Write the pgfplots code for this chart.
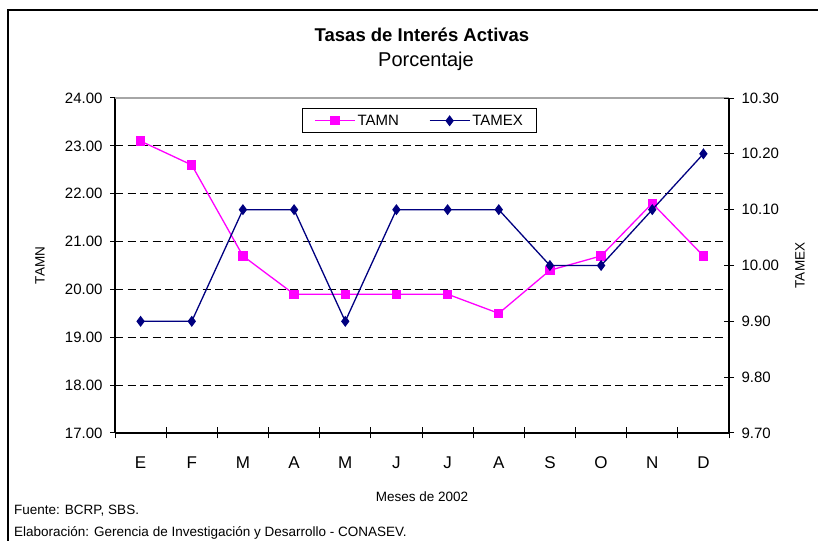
\documentclass[border=0pt]{standalone}
\usepackage{fontspec}
\setmainfont{Liberation Sans}
\usepackage{pgfplots}
\pgfplotsset{compat=1.18}
\definecolor{tamn}{RGB}{255,0,255}
\definecolor{tamex}{RGB}{0,0,128}

\pgfplotstableread{
x tamn tamex
0 23.1 9.9
1 22.6 9.9
2 20.7 10.1
3 19.9 10.1
4 19.9 9.9
5 19.9 10.1
6 19.9 10.1
7 19.5 10.1
8 20.4 10.0
9 20.7 10.0
10 21.8 10.1
11 20.7 10.2
}\datatable

\pgfplotsset{
  common/.style={
    at={(115pt,107pt)}, anchor=south west,
    scale only axis, width=614pt, height=335pt,
    xmin=-0.5, xmax=11.5,
    tick align=center,
    major tick length=10pt, minor tick length=11pt,
    every tick/.style={black, line width=1pt},
    axis line style={-, black, line width=1.3pt},
    every outer x axis line/.append style={-},
    every outer y axis line/.append style={-},
    /pgf/number format/.cd, fixed, fixed zerofill, precision=2, assume math mode=true,
  },
}

\begin{document}
\begin{tikzpicture}[x=1pt,y=1pt]
\useasboundingbox (0,0) rectangle (818,540);
\draw[line width=1.8pt] (8,-30) -- (8,530) -- (860,530);
\node[font=\fontsize{18.5}{20}\selectfont\bfseries, anchor=base, inner sep=0] at (422,498.3) {Tasas de Interés Activas};
\node[font=\fontsize{20}{22}\selectfont, anchor=base, inner sep=0] at (426,473.3) {Porcentaje};
\node[anchor=base west, font=\fontsize{13.5}{15}\selectfont, inner sep=0] at (14,25) {Fuente: BCRP, SBS.};
\node[anchor=base west, font=\fontsize{13.5}{15}\selectfont, inner sep=0] at (14,3) {Elaboración: Gerencia de Investigación y Desarrollo - CONASEV.};

\begin{axis}[common,
  axis x line*=bottom, axis y line*=left,
  ymin=17, ymax=24,
  ytick={17,18,...,24},
  xtick={0,...,11},
  xticklabels={E,F,M,A,M,J,J,A,S,O,N,D},
  major x tick style={draw=none},
  minor xtick={-0.5,0.5,...,11.5},
  ymajorgrids,
  grid style={black, line width=0.9pt, dash pattern=on 8pt off 4.5pt},
  yticklabel style={font=\fontsize{15}{17}\selectfont, anchor=east, xshift=-4pt},
  xticklabel style={font=\fontsize{17}{19}\selectfont, anchor=base, yshift=-31pt},
  ylabel={TAMN},
  every axis y label/.style={at={(rel axis cs:0,0.5)}, xshift=-75pt, rotate=90, anchor=center, font=\fontsize{13.5}{15}\selectfont},
  xlabel={Meses de 2002},
  every axis x label/.style={at={(rel axis cs:0.5,0)}, yshift=-68pt, anchor=base, font=\fontsize{13.5}{15}\selectfont},
]
\draw[gray!70, line width=1.2pt] (rel axis cs:0,1) -- (rel axis cs:1,1);
\addplot[tamn, line width=1.3pt, mark=square*, mark size=4pt, mark options={solid, fill=tamn, draw=tamn}] table[x=x, y=tamn] {\datatable};
\end{axis}

\begin{axis}[common,
  axis x line=none, axis y line*=right,
  ymin=9.7, ymax=10.3,
  ytick={9.7,9.8,9.9,10,10.1,10.2,10.3},
  yticklabel style={font=\fontsize{15}{17}\selectfont, anchor=west, xshift=4pt},
  ylabel={TAMEX},
  every axis y label/.style={at={(rel axis cs:1,0.5)}, xshift=71pt, rotate=90, anchor=center, font=\fontsize{13.5}{15}\selectfont},
  legend columns=2,
  legend style={at={(0.496,0.969)}, anchor=north, draw=black, line width=1pt,
    font=\fontsize{15}{17}\selectfont, inner xsep=12pt, inner ysep=4pt,
    /tikz/every even column/.append style={column sep=28pt}},
  legend image code/.code={\draw[mark repeat=2, mark phase=2, #1] plot coordinates {(0pt,0pt) (20pt,0pt) (40pt,0pt)};},
]
\addlegendimage{tamn, line width=1.3pt, mark=square*, mark size=4pt, mark options={solid, fill=tamn, draw=tamn}}
\addlegendentry{TAMN}
\addplot[tamex, line width=1.3pt, mark=diamond*, mark size=4.5pt, mark options={solid, fill=tamex, draw=tamex}] table[x=x, y=tamex] {\datatable};
\addlegendentry{TAMEX}
\end{axis}
\end{tikzpicture}
\end{document}
